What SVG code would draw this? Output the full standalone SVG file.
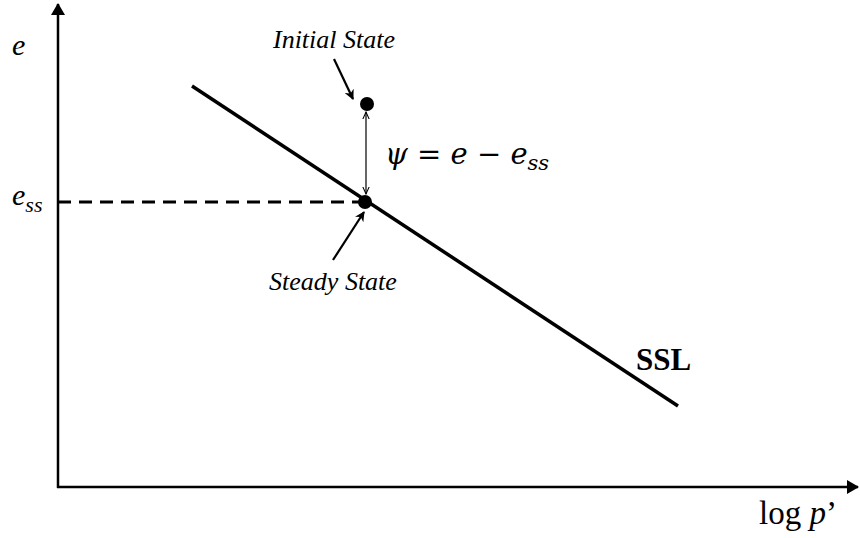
<svg xmlns="http://www.w3.org/2000/svg" width="860" height="538" viewBox="0 0 860 538">
<style>
.ax{stroke:#000;stroke-width:2.5;fill:none}
.it{font-family:"Liberation Serif",serif;font-style:italic;fill:#000}
.rm{font-family:"Liberation Serif",serif;fill:#000}
.math{font-family:"DejaVu Serif","Liberation Serif",serif;fill:#000}
</style>
<defs>
<marker id="big" viewBox="0 0 12 14" refX="11" refY="7" markerWidth="12" markerHeight="14" markerUnits="userSpaceOnUse" orient="auto"><path d="M0,0 L12,7 L0,14 Z" fill="#000"/></marker>
<marker id="sm" viewBox="0 0 10 10" refX="9" refY="5" markerWidth="10" markerHeight="10" markerUnits="userSpaceOnUse" orient="auto"><path d="M0,0 L10,5 L0,10 L3,5 Z" fill="#000"/></marker>
<marker id="op" viewBox="0 0 10 10" refX="9" refY="5" markerWidth="8" markerHeight="8" markerUnits="userSpaceOnUse" orient="auto"><path d="M0,1 L9,5 L0,9" fill="none" stroke="#000" stroke-width="1.3"/></marker>
</defs>
<g id="connectors">
<line class="ax" x1="58" y1="488" x2="58" y2="4" marker-end="url(#big)"/>
<line class="ax" x1="57" y1="487" x2="858" y2="487" marker-end="url(#big)"/>
<line x1="58" y1="202" x2="360" y2="202" stroke="#000" stroke-width="3" stroke-dasharray="13,8"/>
<line x1="192" y1="86" x2="678" y2="406" stroke="#000" stroke-width="3.5"/>
<line x1="366" y1="152" x2="366" y2="112" stroke="#000" stroke-width="1.2" marker-end="url(#op)"/>
<line x1="366" y1="152" x2="366" y2="194" stroke="#000" stroke-width="1.2" marker-end="url(#op)"/>
<line x1="334" y1="59" x2="353" y2="99" stroke="#000" stroke-width="2.2" marker-end="url(#sm)"/>
<line x1="333" y1="260" x2="364" y2="212" stroke="#000" stroke-width="2.2" marker-end="url(#sm)"/>
</g>
<g id="initial-state">
<circle cx="367" cy="104" r="7" fill="#000"/>
<text class="it" x="334" y="48" font-size="26" text-anchor="middle">Initial State</text>
</g>
<g id="steady-state">
<circle cx="365" cy="202" r="7" fill="#000"/>
<text class="it" x="333" y="290" font-size="26" text-anchor="middle">Steady State</text>
</g>
<g id="ssl-label"><text x="636" y="370" font-family="Liberation Serif,serif" font-weight="bold" font-size="31">SSL</text></g>
<g id="psi"><text class="math" x="385" y="164" font-size="29"><tspan font-style="italic">ψ</tspan> = <tspan font-style="italic">e</tspan> − <tspan font-style="italic">e</tspan><tspan font-size="21" dy="6" font-style="italic">ss</tspan></text></g>
<g id="y-label"><text class="it" x="12" y="55" font-size="30">e</text></g>
<g id="ess-label"><text class="it" x="12" y="205" font-size="30">e<tspan font-size="22" dy="7">ss</tspan></text></g>
<g id="x-label"><text class="rm" x="759" y="524" font-size="33">log <tspan font-style="italic">p</tspan>’</text></g>
</svg>
